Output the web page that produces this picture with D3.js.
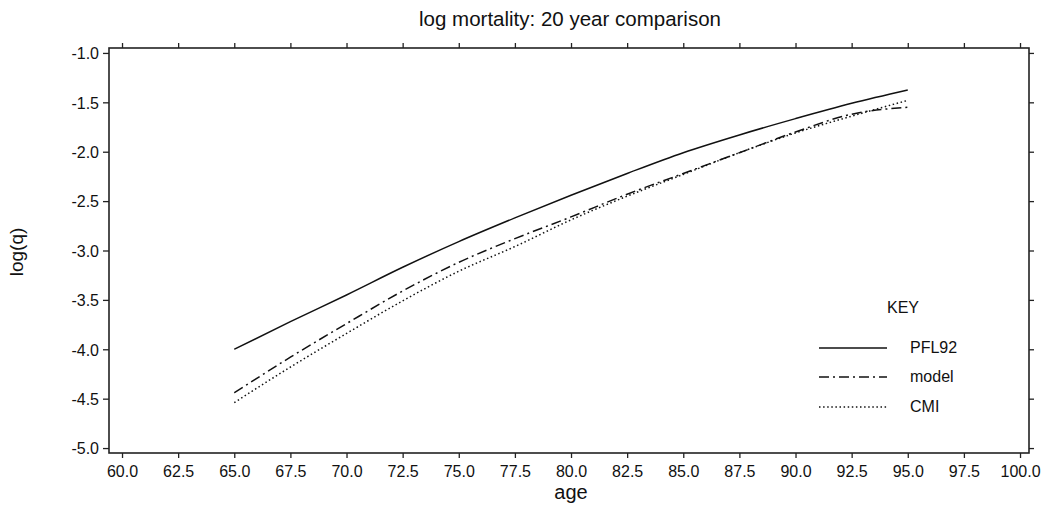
<!DOCTYPE html>
<html>
<head>
<meta charset="utf-8">
<script src="https://d3js.org/d3.v7.min.js"></script>
<style>
  body { margin: 0; background: #fff; }
  text { font-family: "Liberation Sans", Arial, Helvetica, sans-serif; fill: #111; }
</style>
</head>
<body>
<script>
  // values
  var ages = [65, 67.5, 70, 72.5, 75, 77.5, 80, 82.5, 85, 87.5, 90, 92.5, 95];
  var pfl92 = [-4.00, -3.72, -3.45, -3.17, -2.91, -2.67, -2.44, -2.22, -2.01, -1.83, -1.665, -1.51, -1.375];
  var model = [-4.44, -4.08, -3.74, -3.41, -3.12, -2.88, -2.66, -2.43, -2.22, -2.01, -1.80, -1.62, -1.55];
  var cmi = [-4.54, -4.18, -3.84, -3.51, -3.21, -2.96, -2.69, -2.45, -2.23, -2.01, -1.81, -1.64, -1.48];

  var xTicks = d3.range(60, 100.01, 2.5);
  var yTicks = [-1.0, -1.5, -2.0, -2.5, -3.0, -3.5, -4.0, -4.5, -5.0];
  var seriesNames = ["PFL92", "model", "CMI"];

  var svg = d3.select("body").append("svg")
            .attr("width", 1048)
            .attr("height", 509)

  // plot frame (note: "top" is taken by window.top, so use other names)
  var pLeft = 109, pRight = 1029, pTop = 48, pBottom = 453;

  var xScale = d3.scaleLinear().domain([59.42, 100.4]).range([pLeft, pRight]);
  var yScale = d3.scaleLinear().domain([-5.05, -0.95]).range([pBottom, pTop]);

  var fmt = function(d) { return d.toFixed(1) };

  // axes, all ticks point outward
  var gx = svg.append("g").attr("transform", "translate(0," + pBottom + ")")
    .call(d3.axisBottom(xScale).tickValues(xTicks).tickFormat(fmt).tickSize(5).tickSizeOuter(0));
  var gxt = svg.append("g").attr("transform", "translate(0," + pTop + ")")
    .call(d3.axisTop(xScale).tickValues(xTicks).tickFormat("").tickSize(5).tickSizeOuter(0));
  var gy = svg.append("g").attr("transform", "translate(" + pLeft + ",0)")
    .call(d3.axisLeft(yScale).tickValues(yTicks).tickFormat(fmt).tickSize(6).tickSizeOuter(0));
  var gyr = svg.append("g").attr("transform", "translate(" + pRight + ",0)")
    .call(d3.axisRight(yScale).tickValues(yTicks).tickFormat("").tickSize(5).tickSizeOuter(0));

  svg.selectAll(".domain").remove();
  svg.selectAll(".tick line").attr("stroke", "#222").attr("stroke-width", 1.3);
  svg.selectAll(".tick text").attr("font-size", 16).attr("fill", "#111")
     .attr("font-family", "'Liberation Sans', Arial, sans-serif");
  gx.selectAll(".tick text").attr("dy", null).attr("y", 24);
  gy.selectAll(".tick text").attr("x", -10).attr("dy", "0.36em");

  // frame
  svg.append("rect")
    .attr("x", pLeft).attr("y", pTop)
    .attr("width", pRight - pLeft).attr("height", pBottom - pTop)
    .attr("fill", "none").attr("stroke", "#222").attr("stroke-width", 1.6)

  var dashes = ["none", "10,4,2,4", "1.5,2.6"];
  var seriesValues = [pfl92, model, cmi];

  var lineFunction = d3.line()
    .x(function(d) { return xScale(d[0]); })
    .y(function(d) { return yScale(d[1]); })
    .curve(d3.curveMonotoneX);

  seriesValues.forEach(function(vals, i) {
    svg.append("path")
      .attr("d", lineFunction(ages.map(function(a, j) { return [a, vals[j]] })))
      .attr("fill", "none")
      .attr("stroke", "#111")
      .attr("stroke-width", 1.5)
      .attr("stroke-dasharray", dashes[i])
  });

  // titles
  svg.append("text")
    .attr("x", 570).attr("y", 26)
    .attr("text-anchor", "middle")
    .attr("font-size", 20.5)
    .text("log mortality: 20 year comparison");

  svg.append("text")
    .attr("x", 571).attr("y", 499)
    .attr("text-anchor", "middle")
    .attr("font-size", 20)
    .text("age");

  svg.append("text")
    .attr("transform", "translate(23,252) rotate(-90)")
    .attr("text-anchor", "middle")
    .attr("font-size", 19)
    .text("log(q)");

  // key
  svg.append("text")
    .attr("x", 887).attr("y", 313)
    .attr("font-size", 16)
    .text("KEY");

  var legendY = [348, 377, 407];
  seriesNames.forEach(function(name, i) {
    svg.append("line")
      .attr("x1", 819).attr("x2", 887)
      .attr("y1", legendY[i]).attr("y2", legendY[i])
      .attr("stroke", "#111").attr("stroke-width", 1.4)
      .attr("stroke-dasharray", dashes[i])
    svg.append("text")
      .attr("x", 910).attr("y", legendY[i] + 5)
      .attr("font-size", 16)
      .text(name);
  });
</script>
</body>
</html>
